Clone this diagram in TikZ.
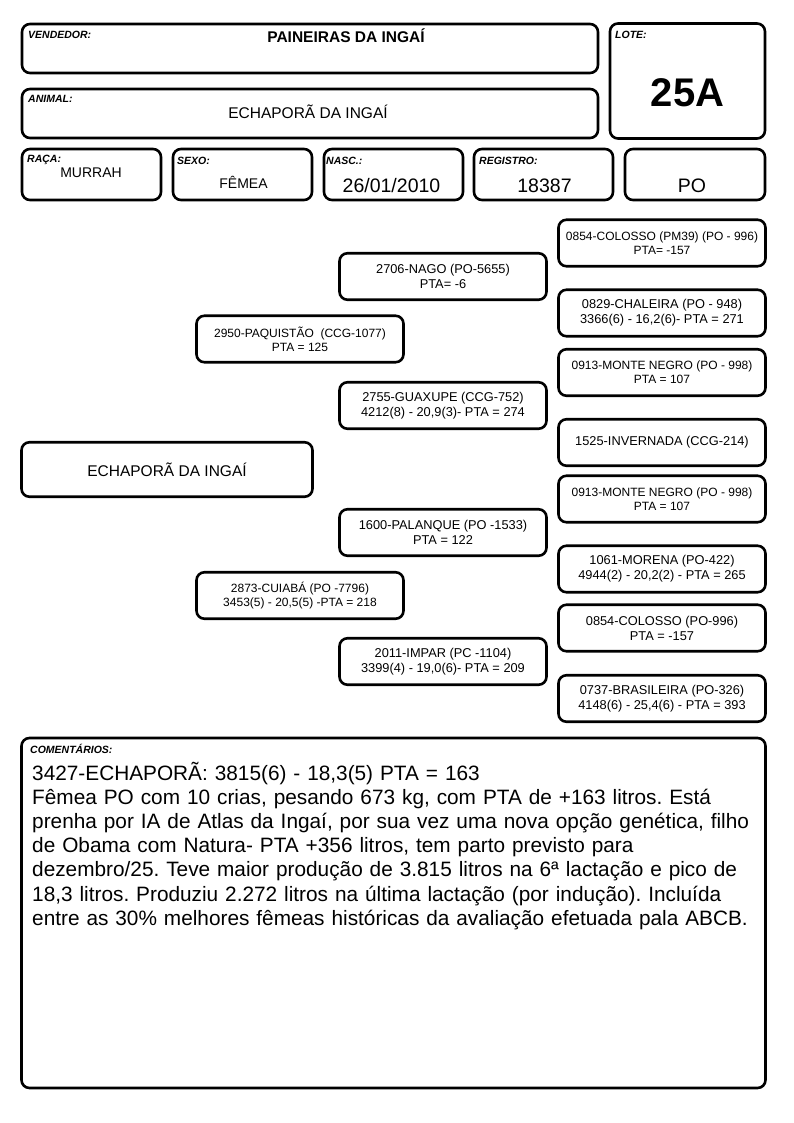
\documentclass[tikz,border=0pt]{standalone}
\usepackage{fontspec}
\setmainfont{Liberation Sans}
\frenchspacing
\begin{document}
\begin{tikzpicture}[x=1pt,y=-1pt,
  box/.style={draw, line width=2.6pt, rounded corners=8pt, inner sep=0pt, outer sep=0pt},
  pbox/.style={box, minimum width=207pt, minimum height=46.5pt, align=center, font=\fontsize{12.8}{15}\selectfont},
  sm/.style={font=\fontsize{12}{14}\selectfont},
  lbl/.style={anchor=base west, inner sep=0pt, font=\fontsize{10.5}{12}\selectfont\bfseries\itshape},
  val/.style={anchor=base, inner sep=0pt}]
\useasboundingbox (0,0) rectangle (794,1123);
% header boxes
\node[box, minimum width=576pt, minimum height=49pt] (vend) at (310,48.5) {};
\node[box, minimum width=576pt, minimum height=49pt] (anim) at (310,113.5) {};
\node[box, minimum width=155pt, minimum height=115pt] (lote) at (687.5,81) {};
\node[box, minimum width=139pt, minimum height=51pt] (raca) at (91.5,174.5) {};
\node[box, minimum width=139pt, minimum height=51pt] (sexo) at (242.5,174.5) {};
\node[box, minimum width=139pt, minimum height=51pt] (nasc) at (393.5,174.5) {};
\node[box, minimum width=139pt, minimum height=51pt] (reg) at (543.5,174.5) {};
\node[box, minimum width=140pt, minimum height=51pt] (po) at (695,174.5) {};
% labels
\node[lbl] (lvend) at (28,39) {VENDEDOR:};
\node[lbl] (lanim) at (28,103) {ANIMAL:};
\node[lbl] (llote) at (615,38.5) {LOTE:};
\node[lbl] (lraca) at (27,163) {RAÇA:};
\node[lbl] (lsexo) at (177,165) {SEXO:};
\node[lbl] (lnasc) at (326,165) {NASC.:};
\node[lbl] (lreg) at (479,165) {REGISTRO:};
% values
\node[val, font=\fontsize{15.5}{18}\selectfont\bfseries] (tvend) at (346,43) {PAINEIRAS DA INGAÍ};
\node[val, font=\fontsize{15.5}{18}\selectfont] (tanim) at (308,119) {ECHAPORÃ DA INGAÍ};
\node[val, font=\fontsize{40}{44}\selectfont\bfseries] (tlote) at (687.5,107) {25A};
\node[val, font=\fontsize{14}{16}\selectfont] (traca) at (91,178) {MURRAH};
\node[val, font=\fontsize{14}{16}\selectfont] (tsexo) at (243.5,189) {FÊMEA};
\node[val, font=\fontsize{19.5}{22}\selectfont] (tnasc) at (391.5,193) {26/01/2010};
\node[val, font=\fontsize{19.5}{22}\selectfont] (treg) at (544.5,193) {18387};
\node[val, font=\fontsize{19.5}{22}\selectfont] (tpo) at (692,193) {PO};
% pedigree
\node[box, minimum width=291pt, minimum height=54.5pt, font=\fontsize{15.5}{18}\selectfont] (main) at (167,469.5) {ECHAPORÃ DA INGAÍ};
\node[pbox, sm] (paq) at (300,339) {2950-PAQUISTÃO\ \ (CCG-1077)\\PTA = 125};
\node[pbox, sm] (cui) at (300,595.5) {2873-CUIABÁ (PO -7796)\\3453(5) - 20,5(5) -PTA = 218};
\node[pbox] (nago) at (443,276.5) {2706-NAGO (PO-5655)\\PTA= -6};
\node[pbox] (guax) at (443,405.5) {2755-GUAXUPE (CCG-752)\\4212(8) - 20,9(3)- PTA = 274};
\node[pbox] (pal) at (443,532.5) {1600-PALANQUE (PO -1533)\\PTA = 122};
\node[pbox] (imp) at (443,661.5) {2011-IMPAR (PC -1104)\\3399(4) - 19,0(6)- PTA = 209};
\node[pbox, sm] (col1) at (662,243) {0854-COLOSSO (PM39) (PO - 996)\\PTA= -157};
\node[pbox] (chal) at (662,313) {0829-CHALEIRA (PO - 948)\\3366(6) - 16,2(6)- PTA = 271};
\node[pbox, sm] (mn1) at (662,372.5) {0913-MONTE NEGRO (PO - 998)\\PTA = 107};
\node[pbox] (inv) at (662,442.5) {1525-INVERNADA (CCG-214)};
\node[pbox, sm] (mn2) at (662,499) {0913-MONTE NEGRO (PO - 998)\\PTA = 107};
\node[pbox] (mor) at (662,569) {1061-MORENA (PO-422)\\4944(2) - 20,2(2) - PTA = 265};
\node[pbox] (col2) at (662,628) {0854-COLOSSO (PO-996)\\PTA = -157};
\node[pbox] (bra) at (662,698.5) {0737-BRASILEIRA (PO-326)\\4148(6) - 25,4(6) - PTA = 393};
% comments
\node[box, minimum width=744pt, minimum height=350pt] (com) at (393.5,913) {};
\node[lbl] (lcom) at (30,753) {COMENTÁRIOS:};
\node[anchor=base west, inner sep=0pt, text width=735pt, align=left, font=\fontsize{20.8}{24.2}\selectfont] (tcom) at (32,780) {3427-ECHAPORÃ: 3815(6) - 18,3(5) PTA = 163\\
Fêmea PO com 10 crias, pesando 673 kg, com PTA de +163 litros. Está\\
prenha por IA de Atlas da Ingaí, por sua vez uma nova opção genética, filho\\
de Obama com Natura- PTA +356 litros, tem parto previsto para\\
dezembro/25. Teve maior produção de 3.815 litros na 6ª lactação e pico de\\
18,3 litros. Produziu 2.272 litros na última lactação (por indução). Incluída\\
entre as 30\% melhores fêmeas históricas da avaliação efetuada pala ABCB.};
\end{tikzpicture}
\end{document}
